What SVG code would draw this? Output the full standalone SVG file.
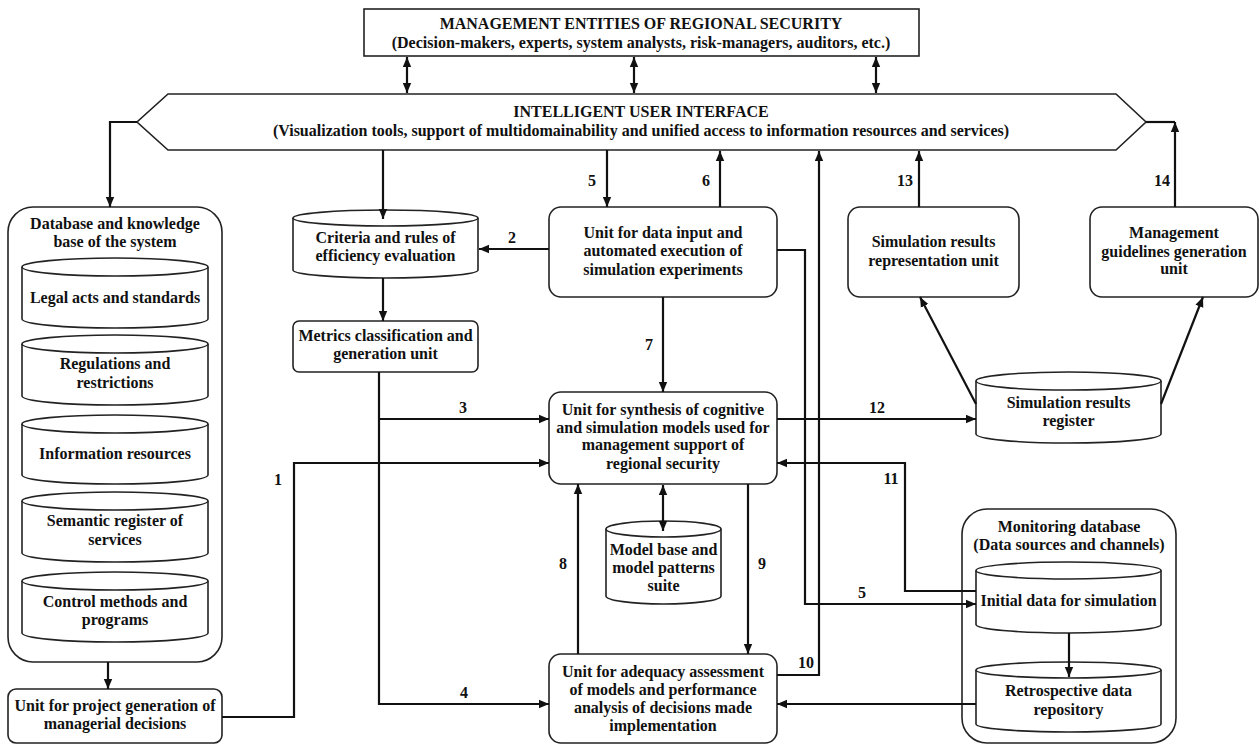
<svg xmlns="http://www.w3.org/2000/svg" width="1259" height="745" viewBox="0 0 1259 745">
<style>
text{font-family:"Liberation Serif","Times New Roman",serif;font-weight:bold;font-size:16px;fill:#111;text-anchor:middle}
.box{fill:#fff;stroke:#222;stroke-width:1.6}
.cyl{fill:#fff;stroke:#222;stroke-width:1.6}
.c{fill:none;stroke:#111;stroke-width:2.2}
.lbl{font-size:16px}
</style>
<defs>
<marker id="ah" markerUnits="userSpaceOnUse" markerWidth="12" markerHeight="10" refX="10" refY="5" orient="auto-start-reverse" viewBox="0 0 12 10">
<path d="M0,0.8 L10,5 L0,9.2 Z" fill="#111"/>
</marker>
</defs>
<rect width="1259" height="745" fill="#fff"/>

<g id="mgmt-entities">
<rect class="box" x="364" y="9" width="555" height="47"/>
<text x="641" y="28.5">MANAGEMENT ENTITIES OF REGIONAL SECURITY</text>
<text x="641" y="47.5">(Decision-makers, experts, system analysts, risk-managers, auditors, etc.)</text>
</g>

<g id="user-interface">
<path class="box" d="M168,94 H1116 L1146,122 L1116,150 H168 L137,122 Z"/>
<text x="641" y="116.5">INTELLIGENT USER INTERFACE</text>
<text x="641" y="135.5">(Visualization tools, support of multidomainability and unified access to information resources and services)</text>
</g>

<g id="db-knowledge">
<rect class="box" x="8" y="207" width="214" height="455" rx="25"/>
<text x="115" y="228.5">Database and knowledge</text>
<text x="115" y="246.5">base of the system</text>
<g id="cyl-legal">
<path class="cyl" d="M22,267 V319 A93,9 0 0 0 208,319 V267"/>
<ellipse class="cyl" cx="115" cy="267" rx="93" ry="9"/>
<text x="115" y="302.5">Legal acts and standards</text>
</g>
<g id="cyl-regulations">
<path class="cyl" d="M22,344 V396 A93,9 0 0 0 208,396 V344"/>
<ellipse class="cyl" cx="115" cy="344" rx="93" ry="9"/>
<text x="115" y="368.5">Regulations and</text>
<text x="115" y="387.5">restrictions</text>
</g>
<g id="cyl-info">
<path class="cyl" d="M22,424 V475 A93,9 0 0 0 208,475 V424"/>
<ellipse class="cyl" cx="115" cy="424" rx="93" ry="9"/>
<text x="115" y="458.5">Information resources</text>
</g>
<g id="cyl-semantic">
<path class="cyl" d="M22,501 V553 A93,9 0 0 0 208,553 V501"/>
<ellipse class="cyl" cx="115" cy="501" rx="93" ry="9"/>
<text x="115" y="525.5">Semantic register of</text>
<text x="115" y="544.5">services</text>
</g>
<g id="cyl-control">
<path class="cyl" d="M22,581 V633 A93,9 0 0 0 208,633 V581"/>
<ellipse class="cyl" cx="115" cy="581" rx="93" ry="9"/>
<text x="115" y="606.5">Control methods and</text>
<text x="115" y="624.5">programs</text>
</g>
</g>

<g id="unit-project">
<rect class="box" x="8" y="689" width="214" height="54" rx="8"/>
<text x="115" y="710.5">Unit for project generation of</text>
<text x="115" y="728.5">managerial decisions</text>
</g>

<g id="criteria">
<path class="cyl" d="M293,218 V270 A92.5,8 0 0 0 478,270 V218"/>
<ellipse class="cyl" cx="385.5" cy="218" rx="92.5" ry="8"/>
<text x="385.5" y="242.5">Criteria and rules of</text>
<text x="385.5" y="260.5">efficiency evaluation</text>
</g>

<g id="metrics">
<rect class="box" x="293" y="321" width="185" height="51" rx="6"/>
<text x="385.5" y="340.5">Metrics classification and</text>
<text x="385.5" y="358.5">generation unit</text>
</g>

<g id="data-input">
<rect class="box" x="549" y="207" width="228" height="90" rx="12"/>
<text x="663" y="237.5">Unit for data input and</text>
<text x="663" y="255.5">automated execution of</text>
<text x="663" y="274.5">simulation experiments</text>
</g>

<g id="synthesis">
<rect class="box" x="549" y="392" width="228" height="92" rx="12"/>
<text x="663" y="414.5">Unit for synthesis of cognitive</text>
<text x="663" y="432.5">and simulation models used for</text>
<text x="663" y="449.5">management support of</text>
<text x="663" y="468.5">regional security</text>
</g>

<g id="model-base">
<path class="cyl" d="M606,529 V596 A57.5,8 0 0 0 721,596 V529"/>
<ellipse class="cyl" cx="663.5" cy="529" rx="57.5" ry="8"/>
<text x="663.5" y="554.5">Model base and</text>
<text x="663.5" y="572.5">model patterns</text>
<text x="663.5" y="590.5">suite</text>
</g>

<g id="adequacy">
<rect class="box" x="549" y="654" width="228" height="89" rx="12"/>
<text x="663" y="676.5">Unit for adequacy assessment</text>
<text x="663" y="694.5">of models and performance</text>
<text x="663" y="712.5">analysis of decisions made</text>
<text x="663" y="730.5">implementation</text>
</g>

<g id="sim-representation">
<rect class="box" x="848" y="207" width="171" height="90" rx="12"/>
<text x="933.5" y="246.5">Simulation results</text>
<text x="933.5" y="265.5">representation unit</text>
</g>

<g id="mgmt-guidelines">
<rect class="box" x="1090" y="207" width="168" height="90" rx="12"/>
<text x="1174" y="237.5">Management</text>
<text x="1174" y="256.5">guidelines generation</text>
<text x="1174" y="273.5">unit</text>
</g>

<g id="sim-register">
<path class="cyl" d="M976,381 V434 A92.5,9 0 0 0 1161,434 V381"/>
<ellipse class="cyl" cx="1068.5" cy="381" rx="92.5" ry="9"/>
<text x="1068.5" y="407.5">Simulation results</text>
<text x="1068.5" y="425.5">register</text>
</g>

<g id="monitoring">
<rect class="box" x="962" y="509" width="214" height="234" rx="25"/>
<text x="1069" y="531.5">Monitoring database</text>
<text x="1069" y="549.5">(Data sources and channels)</text>
<g id="cyl-initial">
<path class="cyl" d="M976,570.5 V624.5 A92.5,8.5 0 0 0 1161,624.5 V570.5"/>
<ellipse class="cyl" cx="1068.5" cy="570.5" rx="92.5" ry="8.5"/>
<text x="1068.5" y="605.5">Initial data for simulation</text>
</g>
<g id="cyl-retro">
<path class="cyl" d="M976,670 V724 A92.5,8 0 0 0 1161,724 V670"/>
<ellipse class="cyl" cx="1068.5" cy="670" rx="92.5" ry="8"/>
<text x="1068.5" y="695.5">Retrospective data</text>
<text x="1068.5" y="714.5">repository</text>
</g>
</g>

<g id="connectors">
<path class="c" d="M407,57 V93" marker-start="url(#ah)" marker-end="url(#ah)"/>
<path class="c" d="M634,57 V93" marker-start="url(#ah)" marker-end="url(#ah)"/>
<path class="c" d="M876,57 V93" marker-start="url(#ah)" marker-end="url(#ah)"/>
<path class="c" d="M137,122 H110 V207" marker-end="url(#ah)"/>
<path class="c" d="M383,150 V219" marker-end="url(#ah)"/>
<path class="c" d="M607,150 V207" marker-end="url(#ah)"/>
<path class="c" d="M720,207 V151" marker-end="url(#ah)"/>
<path class="c" d="M777,675 H819 V151" marker-end="url(#ah)"/>
<path class="c" d="M919,207 V151" marker-end="url(#ah)"/>
<path class="c" d="M1146,122 H1175"/>
<path class="c" d="M1175,207 V122" marker-end="url(#ah)"/>
<path class="c" d="M549,249 H479" marker-end="url(#ah)"/>
<path class="c" d="M383,278 V321" marker-end="url(#ah)"/>
<path class="c" d="M379,372 V704 H549" marker-end="url(#ah)"/>
<path class="c" d="M379,419 H549" marker-end="url(#ah)"/>
<path class="c" d="M663,297 V392" marker-end="url(#ah)"/>
<path class="c" d="M777,419 H976" marker-end="url(#ah)"/>
<path class="c" d="M222,717 H294 V463 H549" marker-end="url(#ah)"/>
<path class="c" d="M976,591 H905 V463 H777" marker-end="url(#ah)"/>
<path class="c" d="M777,250 H805 V604 H976" marker-end="url(#ah)"/>
<path class="c" d="M578,654 V484" marker-end="url(#ah)"/>
<path class="c" d="M748,484 V654" marker-end="url(#ah)"/>
<path class="c" d="M663,485 V531" marker-start="url(#ah)" marker-end="url(#ah)"/>
<path class="c" d="M976,704 H777" marker-end="url(#ah)"/>
<path class="c" d="M1069,633 V677" marker-end="url(#ah)"/>
<path class="c" d="M976,404 L920,297" marker-end="url(#ah)"/>
<path class="c" d="M1161,404 L1203,297" marker-end="url(#ah)"/>
<path class="c" d="M108,662 V689" marker-end="url(#ah)"/>
</g>

<g id="labels">
<text class="lbl" x="512" y="242.5">2</text>
<text class="lbl" x="463" y="412.5">3</text>
<text class="lbl" x="464" y="697.5">4</text>
<text class="lbl" x="278" y="484.5">1</text>
<text class="lbl" x="592" y="185.5">5</text>
<text class="lbl" x="706" y="185.5">6</text>
<text class="lbl" x="649" y="349.5">7</text>
<text class="lbl" x="563" y="568.5">8</text>
<text class="lbl" x="762" y="568.5">9</text>
<text class="lbl" x="806" y="667.5">10</text>
<text class="lbl" x="891" y="483.5">11</text>
<text class="lbl" x="862" y="597.5">5</text>
<text class="lbl" x="877" y="412.5">12</text>
<text class="lbl" x="905" y="185.5">13</text>
<text class="lbl" x="1162" y="185.5">14</text>
</g>
</svg>
